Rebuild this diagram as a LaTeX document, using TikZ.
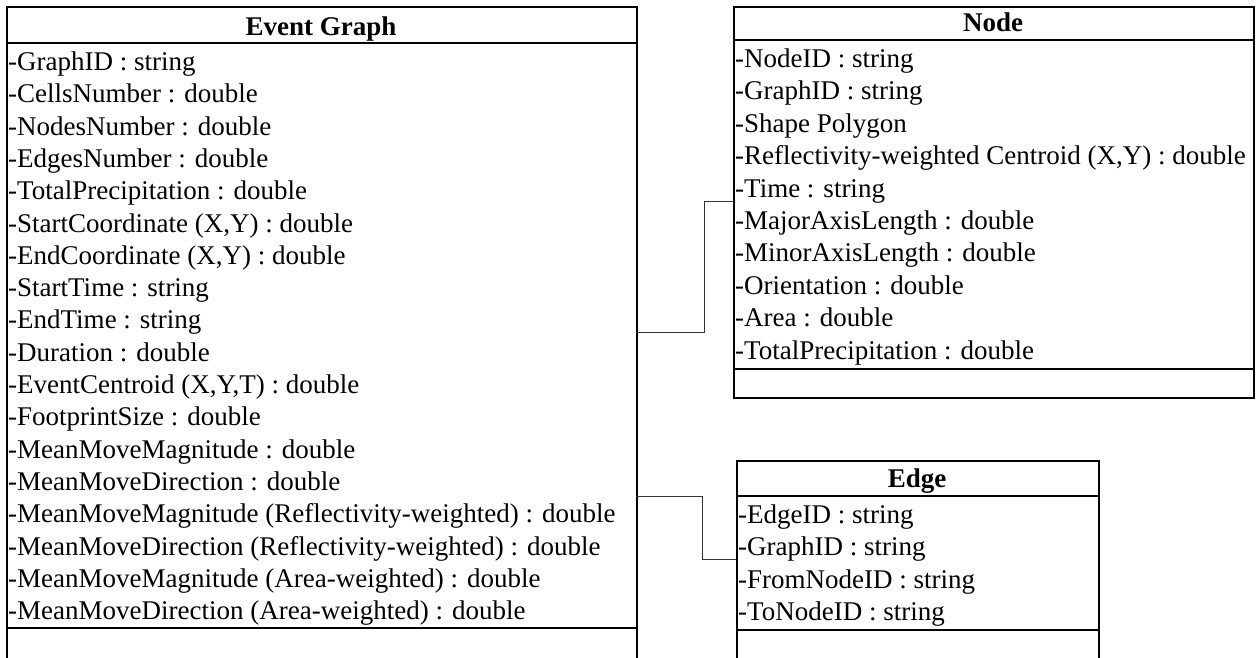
\documentclass[tikz,border=0pt]{standalone}
\usepackage{fontspec}
\setmainfont{Liberation Serif}
\begin{document}
\begin{tikzpicture}[x=1pt,y=-1pt,
  box/.style={draw=black, line width=1.5pt, inner sep=0pt, anchor=north west},
  divider/.style={draw=black, line width=1.5pt},
  attr/.style={anchor=base west, inner sep=0pt, font=\fontsize{27}{32}\selectfont},
  title/.style={anchor=base, inner sep=0pt, font=\fontsize{27}{32}\selectfont\bfseries},
  link/.style={draw=black!80, line width=1pt}]
\useasboundingbox (0,0) rectangle (1259,657);
\clip (0,0) rectangle (1259,657);
\fill[white] (0,0) rectangle (1259,657);

% Event Graph class
\node[box, minimum width=630pt, minimum height=700pt] (eg) at (6,6) {};
\draw[divider] (6,43) -- (636,43);
\draw[divider] (6,628) -- (636,628);
\node[title] (egtitle) at (321,35) {Event Graph};
\foreach \t [count=\i] in {
  {-GraphID : string},
  {-CellsNumber : double},
  {-NodesNumber : double},
  {-EdgesNumber : double},
  {-TotalPrecipitation : double},
  {-StartCoordinate (X,Y) : double},
  {-EndCoordinate (X,Y) : double},
  {-StartTime : string},
  {-EndTime : string},
  {-Duration : double},
  {-EventCentroid (X,Y,T) : double},
  {-FootprintSize : double},
  {-MeanMoveMagnitude : double},
  {-MeanMoveDirection : double},
  {-MeanMoveMagnitude (Reflectivity-weighted) : double},
  {-MeanMoveDirection (Reflectivity-weighted) : double},
  {-MeanMoveMagnitude (Area-weighted) : double},
  {-MeanMoveDirection (Area-weighted) : double}}
  \node[attr] (ega\i) at (8,{70.5+32.3*(\i-1)}) {\t};

% Node class
\node[box, minimum width=520pt, minimum height=391pt] (nd) at (733,6) {};
\draw[divider] (733,40) -- (1253,40);
\draw[divider] (733,369) -- (1253,369);
\node[title] (ndtitle) at (993,31) {Node};
\foreach \t [count=\i] in {
  {-NodeID : string},
  {-GraphID : string},
  {-Shape Polygon},
  {-Reflectivity-weighted Centroid (X,Y) : double},
  {-Time : string},
  {-MajorAxisLength : double},
  {-MinorAxisLength : double},
  {-Orientation : double},
  {-Area : double},
  {-TotalPrecipitation : double}}
  \node[attr] (nda\i) at (735,{67.5+32.4*(\i-1)}) {\t};

% Edge class
\node[box, minimum width=362pt, minimum height=300pt] (ed) at (736,460) {};
\draw[divider] (736,496) -- (1098,496);
\draw[divider] (736,630) -- (1098,630);
\node[title] (edtitle) at (917,487) {Edge};
\foreach \t [count=\i] in {
  {-EdgeID : string},
  {-GraphID : string},
  {-FromNodeID : string},
  {-ToNodeID : string}}
  \node[attr] (eda\i) at (738,{523.5+32.3*(\i-1)}) {\t};

% connectors
\coordinate (egout1) at (636,332);
\coordinate (ndin) at (733,201);
\coordinate (egout2) at (636,496);
\coordinate (edin) at (736,559);
\draw[link] (egout1) -- (704,332) |- (ndin);
\draw[link] (egout2) -- (702,496) |- (edin);
\end{tikzpicture}
\end{document}
